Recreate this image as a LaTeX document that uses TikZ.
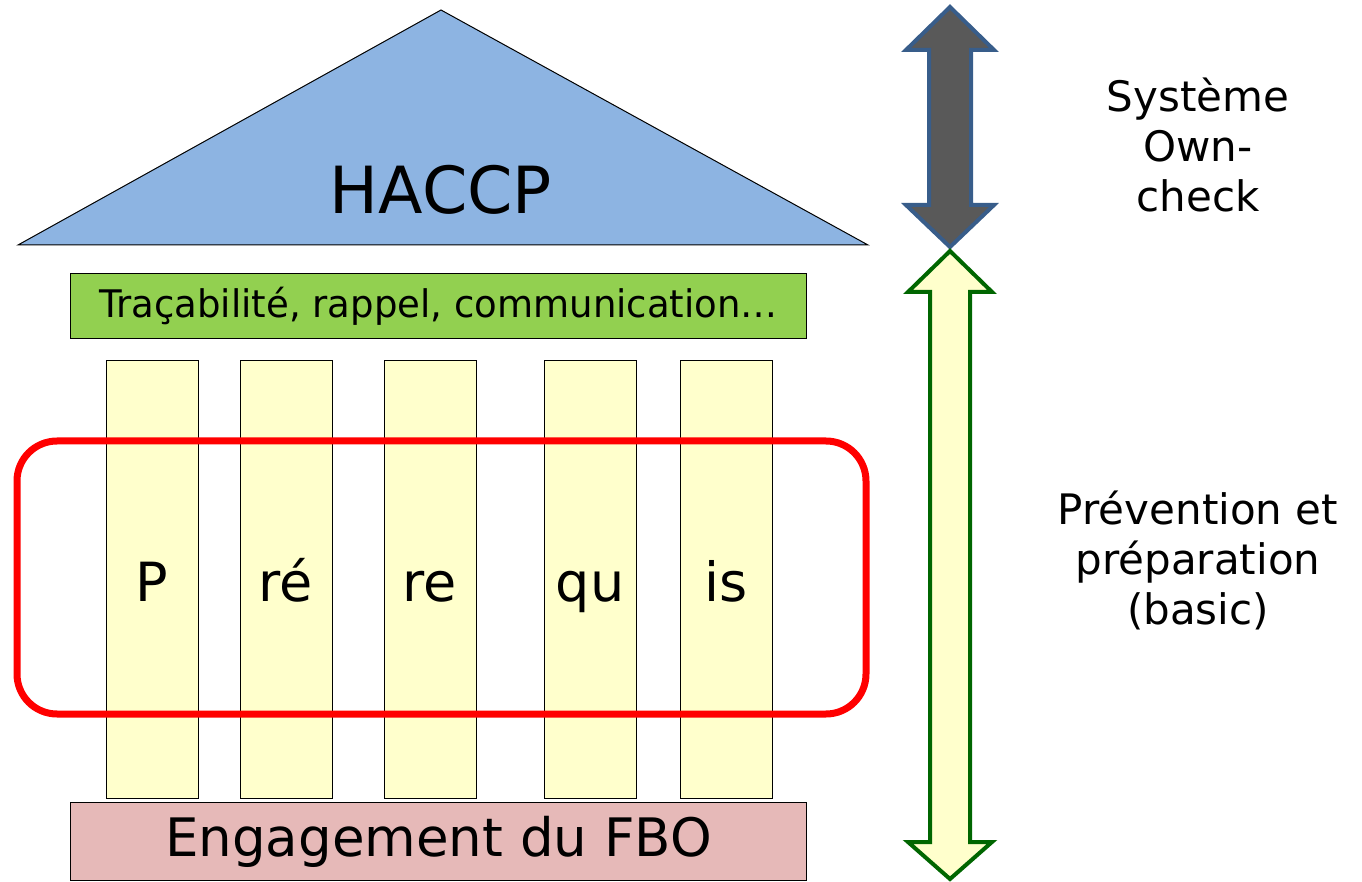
\documentclass[tikz,border=0pt]{standalone}
\usepackage{fontspec}
\setmainfont{DejaVu Sans}
\usepackage{graphicx}
\definecolor{roofblue}{RGB}{141,180,226}
\definecolor{bargreen}{RGB}{146,208,80}
\definecolor{pillaryellow}{RGB}{255,255,204}
\definecolor{basepink}{RGB}{230,185,184}
\definecolor{arrowgray}{RGB}{89,89,89}
\definecolor{arrowblue}{RGB}{56,93,138}
\definecolor{arrowgreen}{RGB}{0,102,0}
\tikzset{
  box/.style={draw=black,line width=0.5pt,inner sep=0pt,anchor=north west},
  pillar/.style={box,fill=pillaryellow,minimum width=46pt,minimum height=219pt},
  sidetext/.style={align=center,font=\fontsize{21}{25}\selectfont}
}
\begin{document}
\begin{tikzpicture}[x=0.5pt,y=-0.5pt]
  \useasboundingbox (0,0) rectangle (1362,882);
  % roof
  \draw[fill=roofblue,line width=0.5pt] (441,10) -- (868,245) -- (18,245) -- cycle;
  \node (haccp) at (441,190) {\fontsize{32.5}{38}\selectfont HACCP};
  % beam
  \node[box,fill=bargreen,minimum width=368pt,minimum height=32.5pt] (beam) at (70,273) {};
  \node (beamtext) at (beam.center) {\scalebox{0.975}[1]{\fontsize{19}{22}\selectfont Traçabilité, rappel, communication…}};
  % pillars
  \foreach \px/\lbl [count=\i] in {106/P,240/ré,384/re,544/qu,680/is}{
    \node[pillar] (p\i) at (\px,360) {};
    \node[anchor=base] (t\i) at (\px+46,602) {\fontsize{27}{32}\selectfont \lbl};
  }
  % base
  \node[box,fill=basepink,minimum width=368pt,minimum height=39pt] (base) at (70,802) {};
  \node (basetext) at (base.center) {\fontsize{26.5}{32}\selectfont Engagement du FBO};
  % red frame
  \draw[red,line width=3.5pt,rounded corners=20pt] (17,441) rectangle (866,714);
  % arrows
  \draw[fill=arrowgray,draw=arrowblue,line width=2pt,line join=miter]
    (950,7) -- (994,50) -- (971,50) -- (971,205) -- (994,205) -- (950,247)
    -- (906,205) -- (929,205) -- (929,50) -- (906,50) -- cycle;
  \draw[fill=pillaryellow,draw=arrowgreen,line width=2pt,line join=miter]
    (950,251) -- (992,292) -- (970,292) -- (970,842) -- (992,842) -- (950,879)
    -- (908,842) -- (930,842) -- (930,292) -- (908,292) -- cycle;
  % labels
  \node[sidetext] (own) at (1198,145) {Système\\Own-\\check};
  \node[sidetext] (basic) at (1198,560) {Prévention et\\préparation\\(basic)};
\end{tikzpicture}
\end{document}
